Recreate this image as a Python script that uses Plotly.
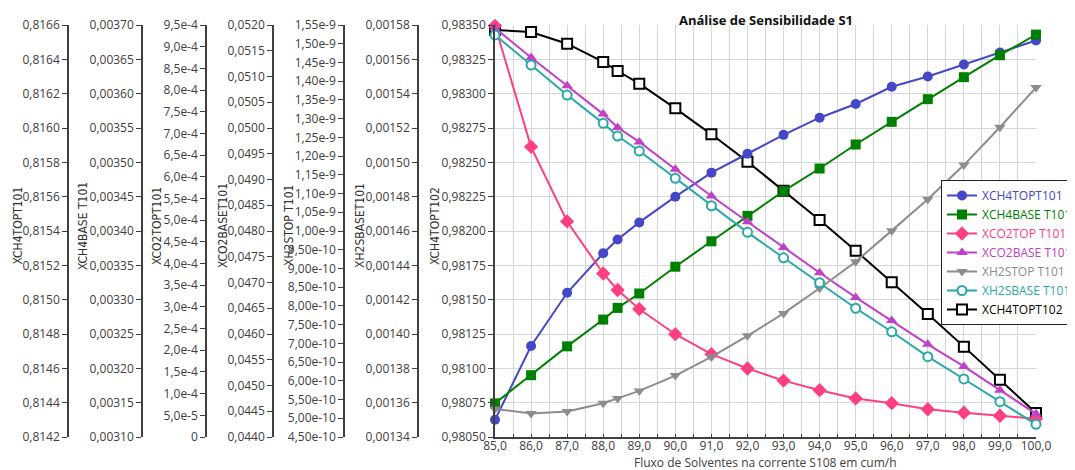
import plotly.graph_objects as go

# ---------------- data ----------------
x_flow = [85.0, 86.0, 87.0, 88.0, 88.4, 89.0, 90.0, 91.0, 92.0, 93.0, 94.0, 95.0, 96.0, 97.0, 98.0, 99.0, 100.0]

xch4top_t101 = [0.81430, 0.81473, 0.81504, 0.81527, 0.81535, 0.81545, 0.81560, 0.81574, 0.81585,
                0.81596, 0.81606, 0.81614, 0.81624, 0.81630, 0.81637, 0.81644, 0.81651]
xch4base_t101 = [0.003149, 0.003190, 0.003232, 0.003271, 0.003288, 0.003309, 0.003348, 0.003385, 0.003422,
                 0.003458, 0.003491, 0.003526, 0.003559, 0.003592, 0.003624, 0.003656, 0.003686]
xco2top_t101 = [9.48e-4, 6.69e-4, 4.97e-4, 3.77e-4, 3.39e-4, 2.95e-4, 2.37e-4, 1.91e-4, 1.58e-4,
                1.30e-4, 1.08e-4, 8.9e-5, 7.8e-5, 6.4e-5, 5.6e-5, 4.9e-5, 4.2e-5]
xco2base_t101 = [0.05194, 0.05137, 0.05082, 0.05027, 0.05001, 0.04973, 0.04920, 0.04868, 0.04818,
                 0.04768, 0.04719, 0.04671, 0.04626, 0.04580, 0.04537, 0.04491, 0.04445]
xh2stop_t101 = [5.25e-10, 5.13e-10, 5.18e-10, 5.40e-10, 5.53e-10, 5.73e-10, 6.14e-10, 6.64e-10, 7.20e-10,
                7.80e-10, 8.47e-10, 9.18e-10, 1.001e-9, 1.085e-9, 1.176e-9, 1.277e-9, 1.383e-9]
xh2sbase_t101 = [0.0015742, 0.0015567, 0.0015392, 0.0015227, 0.0015153, 0.0015066, 0.0014907, 0.0014747,
                 0.0014592, 0.0014444, 0.0014299, 0.0014150, 0.0014013, 0.0013868, 0.0013738, 0.0013606,
                 0.0013474]
xch4top_t102 = [0.983464, 0.983449, 0.983364, 0.983231, 0.983165, 0.983073, 0.982893, 0.982704, 0.982505,
                0.982293, 0.982080, 0.981857, 0.981627, 0.981396, 0.981158, 0.980917, 0.980675]

co2top_tickvals = [0, 5e-5, 1e-4, 1.5e-4, 2e-4, 2.5e-4, 3e-4, 3.5e-4, 4e-4, 4.5e-4, 5e-4,
                   5.5e-4, 6e-4, 6.5e-4, 7e-4, 7.5e-4, 8e-4, 8.5e-4, 9e-4, 9.5e-4]
co2top_ticktext = ["0", "5,0e-5", "1,0e-4", "1,5e-4", "2,0e-4", "2,5e-4", "3,0e-4", "3,5e-4", "4,0e-4",
                   "4,5e-4", "5,0e-4", "5,5e-4", "6,0e-4", "6,5e-4", "7,0e-4", "7,5e-4", "8,0e-4",
                   "8,5e-4", "9,0e-4", "9,5e-4"]
h2stop_tickvals = [4.5e-10, 5.0e-10, 5.5e-10, 6.0e-10, 6.5e-10, 7.0e-10, 7.5e-10, 8.0e-10, 8.5e-10,
                   9.0e-10, 9.5e-10, 1.0e-9, 1.05e-9, 1.1e-9, 1.15e-9, 1.2e-9, 1.25e-9, 1.3e-9,
                   1.35e-9, 1.4e-9, 1.45e-9, 1.5e-9, 1.55e-9]
h2stop_ticktext = ["4,50e-10", "5,00e-10", "5,50e-10", "6,00e-10", "6,50e-10", "7,00e-10", "7,50e-10",
                   "8,00e-10", "8,50e-10", "9,00e-10", "9,50e-10", "1,00e-9", "1,05e-9", "1,10e-9",
                   "1,15e-9", "1,20e-9", "1,25e-9", "1,30e-9", "1,35e-9", "1,40e-9", "1,45e-9",
                   "1,50e-9", "1,55e-9"]

# ---------------- layout geometry ----------------
# the page body has an 8px margin, so figure coords = screen coords - 8
OFF = 8
W, H = 1075 - OFF, 470 - OFF
plot_l, plot_r, plot_t, plot_b = 495 - OFF, 1036 - OFF, 25 - OFF, 437 - OFF
ML, MR, MT, MB = 0, W - plot_r, plot_t, H - plot_b
PW = W - ML - MR
PH = H - MT - MB
x_dom0 = plot_l / PW


def px(sx):
    return (sx - OFF) / PW


def py(sy):
    return (plot_b - (sy - OFF)) / PH


FONT = "Open Sans, Noto Sans, sans-serif"
NARROW = "Liberation Sans Narrow, Arial Narrow, DejaVu Sans Condensed, sans-serif"
AXC = "#404040"

fig = go.Figure()

series = [
    ("XCH4TOPT101", xch4top_t101, "y2", "#4646C8", dict(symbol="circle", size=10, color="#4646C8")),
    ("XCH4BASE T101", xch4base_t101, "y3", "#008000", dict(symbol="square", size=10, color="#008000")),
    ("XCO2TOP T101", xco2top_t101, "y4", "#FF4080", dict(symbol="diamond", size=11, color="#FF4080")),
    ("XCO2BASE T101", xco2base_t101, "y5", "#C040C8", dict(symbol="triangle-up", size=10, color="#C040C8")),
    ("XH2STOP T101", xh2stop_t101, "y6", "#8C8C8C", dict(symbol="triangle-down", size=10, color="#8C8C8C")),
    ("XH2SBASE T101", xh2sbase_t101, "y7", "#2AA8A8",
     dict(symbol="circle", size=9, color="white", line=dict(color="#2AA8A8", width=2))),
    ("XCH4TOPT102", xch4top_t102, "y", "#000000",
     dict(symbol="square", size=10, color="white", line=dict(color="#000000", width=2))),
]

for name, vals, yax, col, mk in series:
    fig.add_trace(go.Scatter(
        x=x_flow, y=vals, yaxis=yax, mode="lines+markers",
        name=f"<span style='color:{col}'>{name}</span>",
        line=dict(color=col, width=2), marker=mk, cliponaxis=False,
    ))

tickfont = dict(family=FONT, size=12, color=AXC)
titlefont = dict(family=NARROW, size=12, color="#333333")


def sec_axis(pos, rng, **kw):
    d = dict(
        anchor="free", overlaying="y", side="left", position=px(pos),
        range=rng, showgrid=False, zeroline=False, automargin=False,
        showline=True, linecolor=AXC, linewidth=1.5,
        ticks="outside", ticklen=5, tickcolor=AXC, tickfont=tickfont,
    )
    d.update(kw)
    return d


axis_titles = [("XCH4TOPT101", 17.5), ("XCH4BASE T101", 83), ("XCO2TOPT101", 157),
               ("XCO2BASET101", 223), ("XH2STOP T101", 289), ("XH2SBASET101", 360), ("XCH4TOPT102", 435)]
annotations = [dict(text=t, xref="paper", yref="paper", x=px(sx), y=py(226), textangle=-90,
                    xanchor="center", yanchor="middle", showarrow=False, font=titlefont)
               for t, sx in axis_titles]
annotations.append(dict(
    text="Fluxo de Solventes na corrente S108 em cum/h", xref="paper", yref="paper",
    x=(x_dom0 + 1) / 2, y=py(462), xanchor="center", yanchor="middle", showarrow=False,
    font=dict(family=FONT, size=12, color=AXC),
))
# chart title
annotations.append(dict(
    text="<b>Análise de Sensibilidade S1</b>", xref="paper", yref="paper",
    x=(x_dom0 + 1) / 2, y=py(OFF + 0.5), xanchor="center", yanchor="top", showarrow=False,
    font=dict(family=FONT, size=13, color="#111111"),
))

fig.update_layout(
    width=W, height=H,
    margin=dict(l=ML, r=MR, t=MT, b=MB, pad=0, autoexpand=False),
    paper_bgcolor="white", plot_bgcolor="white",
    separators=",.",
    font=dict(family=FONT, size=12, color=AXC),
    showlegend=True,
    legend=dict(x=px(941), y=py(180), xanchor="left", yanchor="top",
                bgcolor="white", bordercolor="#222222", borderwidth=1,
                font=dict(family=FONT, size=12), tracegroupgap=0, itemwidth=30),
    xaxis=dict(
        domain=[x_dom0, 1], range=[85, 100], tick0=85, dtick=1, tickformat=".1f", automargin=False,
        showgrid=True, gridcolor="#D6D6D6", gridwidth=1,
        minor=dict(dtick=0.5, showgrid=True, gridcolor="#D6D6D6", ticks="inside", ticklen=3, tickcolor=AXC),
        showline=True, linecolor=AXC, linewidth=1.5, zeroline=False,
        ticks="inside", ticklen=3, tickcolor=AXC, tickfont=tickfont, ticklabelstandoff=-3,
    ),
    yaxis=dict(
        range=[0.98050, 0.98350], tick0=0.98050, dtick=0.00025, tickformat=".5f", automargin=False,
        showgrid=True, gridcolor="#D6D6D6", gridwidth=1, zeroline=False,
        showline=True, linecolor=AXC, linewidth=1.5,
        ticks="outside", ticklen=5, tickcolor=AXC, tickfont=tickfont,
    ),
    yaxis2=sec_axis(68, [0.8142, 0.8166], tick0=0.8142, dtick=0.0002, tickformat=".4f"),
    yaxis3=sec_axis(142, [0.00310, 0.00370], tick0=0.0031, dtick=0.00005, tickformat=".5f"),
    yaxis4=sec_axis(206, [0, 9.5e-4], tickmode="array", tickvals=co2top_tickvals, ticktext=co2top_ticktext),
    yaxis5=sec_axis(273, [0.0440, 0.0520], tick0=0.044, dtick=0.0005, tickformat=".4f"),
    yaxis6=sec_axis(344, [4.5e-10, 1.55e-9], tickmode="array", tickvals=h2stop_tickvals,
                    ticktext=h2stop_ticktext),
    yaxis7=sec_axis(418, [0.00134, 0.00158], tick0=0.00134, dtick=0.00002, tickformat=".5f"),
    annotations=annotations,
)

fig.write_html("out.html")
